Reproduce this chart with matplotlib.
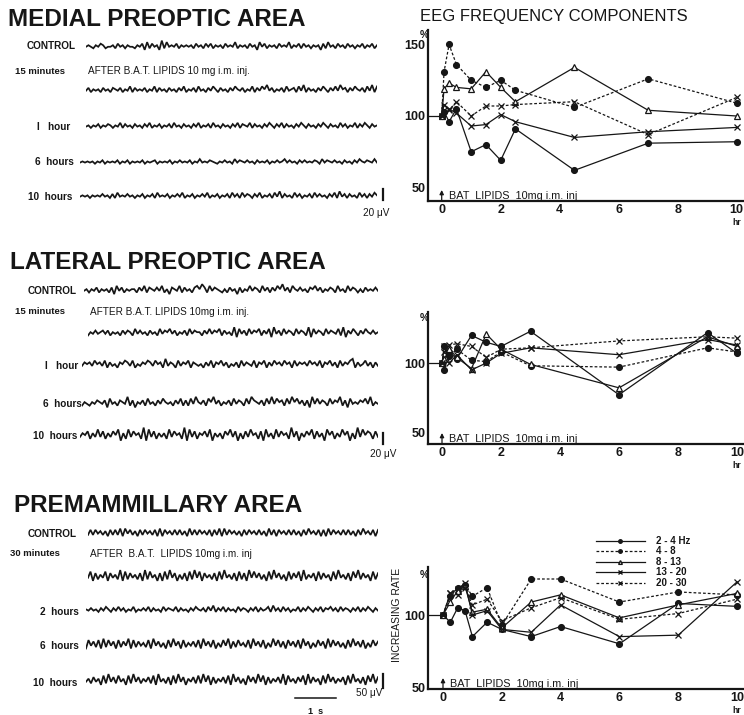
import numpy as np
import matplotlib
matplotlib.use("Agg")
import matplotlib.pyplot as plt
from matplotlib.lines import Line2D

W, H = 744, 715
plt.rcParams['font.family'] = ['Liberation Sans', 'DejaVu Sans']
INK = '#161616'

# ---------------------------------------------------------------- EEG records
# each character is one sample, amplitude level 0..9 (4.5 = baseline)
MPO_CONTROL = "454354653445364535443546273645283745463545453645364635453645473545364527463545364547354636453545263745364536453546354635"
MPO_15MIN = "463545364536546354736454635473645364536473546374536475364536475463547364758463546374563748364536475364748563647546374837"
MPO_1H = "453546354653547364536453647354635463745364536473546374536453647365473645364753647364536475364536475364537463547364753645"
MPO_6H = "454545354635454635463545463545635454635464546354745465435464537465464536454635464574645364645465374654645364536475465474"
MPO_10H = "454535454645363745464535463546374546354647354635464735463546374637465364735463748364537463546374645364738463645374636475"

LPO_CONTROL = "4535463545362746354553647365464735265473645367586374654353645263547465374636475846375464536574635465374537465353645464"
LPO_15MIN = "3546456463545364653746453645374657463546374655364746573645382746374657364728463746537465382746537465473826475364754645"
LPO_1H = "4656475647364536576473546576475638465374657365453647365746354637465473657364756475637465647564736574637465783645746364"
LPO_6H = "3543546546274536548362546374536475453647363748546375846354637465374865463748475637485746362847465374658362745465748354"
LPO_10H = "4657364847364758263847563928473646384756392847365748264637584726374856372846384756394726475837462857364857263948576374"

PM_CONTROL = "3737463627373828473627374637282746373736283737463727382837463627374637362837274637373627384637272837463737362738463727"
PM_30MIN = "4827364827463928374637293846272839472637283948274637283946372837294847362839473628374829364728374628394637284937462837"
PM_2H = "5464536475364746354735464736453746547364536475463748364736453746536473645738463746354736475364736574637465364736475364"
PM_6H = "2847382938472837492837463829473628394728364738294738263849273846382947382639483728473829472638472938473628394738263847"
PM_10H = "4637462839473846283947364738294637283947264738394827364738294736284739482736473928463748293746283947364728394637284937"

DURATION = 7.25  # seconds shown per record

# ------------------------------------------------------ frequency components
LEGEND_LABELS = ["2 - 4 Hz", "4 - 8", "8 - 13", "13 - 20", "20 - 30"]

MPO_HOURS = [0, 0.08, 0.25, 0.5, 1, 1.5, 2, 2.5, 4.5, 7, 10]
MPO_VALUES = [
    [100, 103, 96, 105, 75, 80, 69, 91, 62, 81, 82],
    [100, 131, 150, 136, 125, 120, 125, 118, 106, 126, 109],
    [100, 119, 123, 120, 119, 131, 120, 110, 134, 104, 100],
    [100, 108, 105, 102, 93, 94, 101, 96, 85, 89, 92],
    [100, 104, 104, 110, 100, 107, 107, 108, 110, 87, 113],
]

LPO_HOURS = [0, 0.08, 0.25, 0.5, 1, 1.5, 2, 3, 6, 9, 10]
LPO_VALUES = [
    [100, 95, 108, 103, 120, 115, 112, 123, 77, 122, 107],
    [100, 112, 105, 110, 102, 101, 108, 98, 97, 111, 108],
    [100, 103, 110, 104, 96, 121, 110, 99, 82, 119, 112],
    [100, 112, 100, 106, 95, 100, 107, 111, 106, 117, 113],
    [100, 108, 113, 114, 112, 104, 110, 111, 116, 119, 118],
]

PM_HOURS = [0, 0.25, 0.5, 0.75, 1, 1.5, 2, 3, 4, 6, 8, 10]
PM_VALUES = [
    [100, 95, 105, 103, 85, 95, 90, 85, 92, 80, 108, 106],
    [100, 113, 119, 121, 113, 119, 93, 125, 125, 109, 116, 114],
    [100, 109, 117, 120, 102, 104, 91, 109, 114, 98, 107, 115],
    [100, 115, 118, 122, 100, 103, 90, 88, 107, 85, 86, 123],
    [100, 115, 114, 119, 107, 111, 96, 105, 112, 97, 101, 111],
]

STYLES = [
    dict(ls='-', marker='o', mfc=INK, ms=4.2),
    dict(ls=(0, (2.2, 1.6)), marker='o', mfc=INK, ms=4.2),
    dict(ls='-', marker='^', mfc='white', ms=4.5),
    dict(ls='-', marker='x', mfc=INK, ms=3.8),
    dict(ls=(0, (2.2, 1.6)), marker='x', mfc=INK, ms=3.8),
]


def fx(x):
    return x / W


def fy(y):
    return 1 - y / H


fig = plt.figure(figsize=(W / 100, H / 100), dpi=100)
fig.patch.set_facecolor('white')


def label(x, y, s, size=7.2, weight='bold', ha='left', **kw):
    fig.text(fx(x), fy(y), s, fontsize=size, fontweight=weight, ha=ha,
             va='center', color=INK, **kw)


# ---------------------------------------------------------------- EEG panels
def trace(x0, x1, yc, digits, uv_step, px_per_uv, lw=1.25):
    vals = (np.array([int(c) for c in digits]) - 4.5) * uv_step
    t = np.linspace(0, DURATION, len(vals))
    h = 40
    ax = fig.add_axes([fx(x0), fy(yc + h / 2), (x1 - x0) / W, h / H])
    half = h / 2 / px_per_uv
    ax.plot(t, vals, color=INK, lw=lw, solid_joinstyle='miter')
    ax.set_xlim(0, DURATION)
    ax.set_ylim(-half, half)
    ax.axis('off')
    return ax


def scale_bar(x, yc, uv, px_per_uv):
    h = 40
    ax = fig.add_axes([fx(x - 3), fy(yc + h / 2), 6 / W, h / H])
    half = h / 2 / px_per_uv
    ax.plot([0, 0], [-uv / 2, uv / 2], color=INK, lw=1.6)
    ax.set_xlim(-1, 1)
    ax.set_ylim(-half, half)
    ax.axis('off')


TITLE_SIZE = 17.5

# Medial preoptic area
label(8, 20, "MEDIAL PREOPTIC AREA", size=TITLE_SIZE)
MPO_PX = 11 / 20
label(27, 46, "CONTROL")
trace(86, 377, 46, MPO_CONTROL, 2.8, MPO_PX)
label(15, 71, "15 minutes", size=6.8)
label(88, 71, "AFTER B.A.T. LIPIDS 10 mg i.m. inj.", size=7.2, weight='normal')
trace(86, 377, 90, MPO_15MIN, 2.6, MPO_PX)
label(37, 127, "I   hour")
trace(86, 377, 126, MPO_1H, 2.3, MPO_PX)
label(35, 162, "6  hours")
trace(80, 377, 162, MPO_6H, 2.1, MPO_PX)
label(28, 197, "10  hours")
trace(80, 377, 196, MPO_10H, 2.4, MPO_PX)
scale_bar(383, 194, 20, MPO_PX)
label(363, 213, "20 μV", size=7.2, weight='normal')

# Lateral preoptic area
label(10, 262, "LATERAL PREOPTIC AREA", size=TITLE_SIZE)
label(28, 291, "CONTROL")
trace(84, 378, 290, LPO_CONTROL, 3.0, MPO_PX)
label(15, 312, "15 minutes", size=6.8)
label(90, 312, "AFTER B.A.T. LIPIDS 10mg i.m. inj.", size=7.2, weight='normal')
trace(88, 378, 333, LPO_15MIN, 3.0, MPO_PX)
label(45, 366, "I   hour")
trace(82, 378, 365, LPO_1H, 3.2, MPO_PX)
label(43, 404, "6  hours")
trace(82, 378, 403, LPO_6H, 3.2, MPO_PX)
label(33, 436, "10  hours")
trace(80, 378, 436, LPO_10H, 3.4, MPO_PX)
scale_bar(383, 438, 20, MPO_PX)
label(370, 454, "20 μV", size=7.2, weight='normal')

# Premammillary area
label(14, 505, "PREMAMMILLARY AREA", size=TITLE_SIZE)
PM_PX = 14 / 50
label(28, 534, "CONTROL")
trace(88, 378, 533, PM_CONTROL, 4.5, PM_PX)
label(10, 554, "30 minutes", size=6.8)
label(90, 554, "AFTER  B.A.T.  LIPIDS 10mg i.m. inj", size=7.2, weight='normal')
trace(88, 378, 577, PM_30MIN, 5.5, PM_PX)
label(40, 612, "2  hours")
trace(86, 378, 610, PM_2H, 4.5, PM_PX)
label(40, 646, "6  hours")
trace(86, 378, 645, PM_6H, 5.0, PM_PX)
label(33, 683, "10  hours")
trace(86, 378, 681, PM_10H, 5.5, PM_PX)
scale_bar(383, 681, 50, PM_PX)
label(356, 693, "50 μV", size=7.2, weight='normal')
# one-second time bar
tb = fig.add_axes([fx(86), fy(706), (378 - 86) / W, 12 / H])
tb.set_xlim(0, DURATION)
tb.set_ylim(0, 1)
tb.plot([5.2, 6.2], [0.7, 0.7], color=INK, lw=1.1)
tb.axis('off')
label(308, 711, "1  s", size=6.5)

# --------------------------------------------------------------- line charts
def chart(top, bottom, zero_px, px_per_hr, base_px, px_per_unit, yticks,
          hours, values, hr_label=True):
    left, right = 428, 744
    ax = fig.add_axes([fx(left), fy(bottom), (right - left) / W, (bottom - top) / H])
    ax.set_xlim((left - zero_px) / px_per_hr, (right - zero_px) / px_per_hr)
    ax.set_ylim(100 - (bottom - base_px) / px_per_unit,
                100 + (base_px - top) / px_per_unit)
    for s in ('top', 'right'):
        ax.spines[s].set_visible(False)
    for s in ('left', 'bottom'):
        ax.spines[s].set_linewidth(1.6)
        ax.spines[s].set_color(INK)
    ax.set_facecolor('none')
    ax.set_xticks([0, 2, 4, 6, 8, 10])
    ax.set_yticks(yticks)
    ax.tick_params(length=0, labelsize=9, pad=2, colors=INK)
    for t in ax.get_xticklabels() + ax.get_yticklabels():
        t.set_fontweight('bold')
    x0 = ax.get_xlim()[0]
    ax.plot([x0, 0], [100, 100], color=INK, lw=0.9)
    for vals, st in zip(values, STYLES):
        ax.plot(hours, vals, color=INK, lw=0.9, ls=st['ls'], marker=st['marker'],
                ms=st['ms'], mfc=st['mfc'], mec=INK, mew=0.9)
    y0 = ax.get_ylim()[0]
    ax.annotate('', xy=(0, y0 + 11 / px_per_unit), xytext=(0, y0),
                arrowprops=dict(arrowstyle='-|>', lw=0.9, color=INK,
                                mutation_scale=6, shrinkA=0, shrinkB=0))
    ax.text(0.25, y0 + 5 / px_per_unit, "BAT  LIPIDS  10mg i.m. inj", fontsize=7.8,
            va='center', color=INK)
    if hr_label:
        ax.annotate('hr', xy=(10, y0), xytext=(0, -15.5), textcoords='offset points',
                    ha='center', va='center', fontsize=6.2, fontweight='bold',
                    color=INK)
    return ax


label(420, 17, "EEG FREQUENCY COMPONENTS", size=12, weight='normal')
chart(30, 201, 441.7, 29.5, 116, 1.43, [50, 100, 150], MPO_HOURS, MPO_VALUES)
label(420, 35, "%", size=7.5)

chart(312, 444, 442, 29.5, 363, 1.38, [50, 100], LPO_HOURS, LPO_VALUES)
label(420, 318, "%", size=7.5)

chart(567, 689, 443, 29.4, 615, 1.44, [50, 100], PM_HOURS, PM_VALUES)
label(420, 575, "%", size=7.5)
fig.text(fx(397), fy(615), "INCREASING RATE", rotation=90, fontsize=7.5,
         ha='center', va='center', color=INK)

handles = [Line2D([], [], color=INK, lw=0.9, ls=st['ls'], marker=st['marker'],
                  ms=st['ms'] * 0.6, mfc=st['mfc'], mec=INK)
           for st in STYLES]
leg = fig.legend(handles, LEGEND_LABELS, loc='upper left',
                 bbox_to_anchor=(fx(596), fy(536)), frameon=False, fontsize=7,
                 handlelength=5.0, handletextpad=1.2, labelspacing=0.05,
                 borderaxespad=0, borderpad=0)
for t in leg.get_texts():
    t.set_fontweight('bold')
    t.set_color(INK)

fig.savefig('out.png', dpi=100, facecolor='white')
